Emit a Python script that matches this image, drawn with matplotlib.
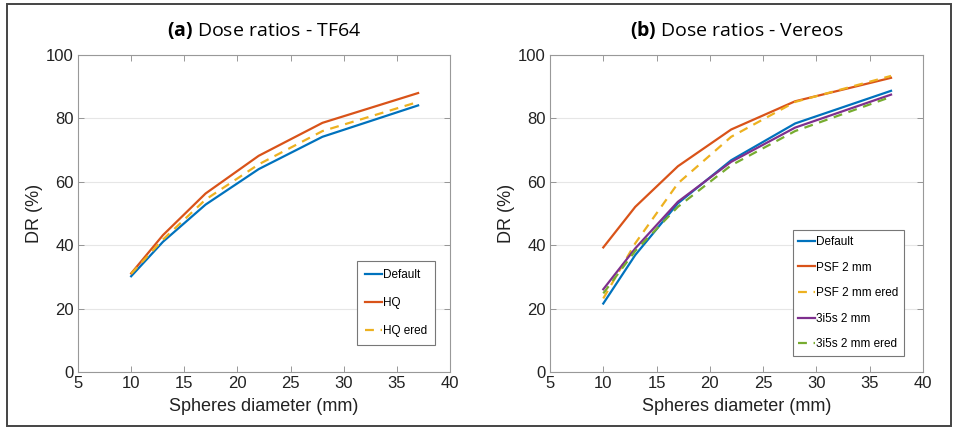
import numpy as np
import matplotlib
matplotlib.use("Agg")
import matplotlib.pyplot as plt
from matplotlib.patches import Rectangle

plt.rcParams['font.family'] = ['Liberation Sans', 'DejaVu Sans']
plt.rcParams['mathtext.fontset'] = 'custom'
plt.rcParams['mathtext.rm'] = 'Open Sans'
plt.rcParams['mathtext.bf'] = 'Open Sans:bold'

# sphere diameters (mm)
diam = [10, 13, 17, 22, 28, 37]

# (a) TF64
tf_default = [30.2, 41.1, 52.8, 64.0, 74.2, 84.1]
tf_hq = [31.1, 43.2, 56.3, 68.2, 78.6, 88.0]
tf_hq_ered = [31.0, 41.8, 54.4, 65.5, 76.0, 85.2]

# (b) Vereos
ve_default = [21.6, 36.9, 53.2, 66.8, 78.4, 88.7]
ve_psf = [39.3, 52.1, 64.9, 76.5, 85.4, 92.8]
ve_psf_ered = [23.2, 40.6, 59.5, 74.2, 85.2, 93.4]
ve_3i5s = [26.1, 39.0, 53.7, 66.3, 77.1, 87.5]
ve_3i5s_ered = [24.8, 38.2, 52.1, 65.2, 76.0, 86.8]

blue = '#0072BD'
red = '#D95319'
orange = '#EDB120'
purple = '#7E2F8E'
green = '#77AC30'

fig = plt.figure(figsize=(9.56, 4.30), dpi=100)
W, H = 956, 430
ax1 = fig.add_axes([78 / W, 1 - 372 / H, 372 / W, 317 / H])
ax2 = fig.add_axes([550 / W, 1 - 372 / H, 373 / W, 317 / H])

# border round the whole figure
fig.patches.append(Rectangle((7 / W, 4 / H), 944 / W, 422 / H, transform=fig.transFigure,
                             fill=False, edgecolor='#444444', lw=1.4))

def style(ax, title):
    ax.set_xlim(5, 40)
    ax.set_ylim(0, 100)
    ax.set_xticks(np.arange(5, 41, 5))
    ax.set_yticks(np.arange(0, 101, 20))
    ax.tick_params(direction='in', top=True, right=True, length=4, width=0.6,
                   color='#888888', labelsize=12, labelcolor='#222222', pad=3)
    for s in ax.spines.values():
        s.set_color('#999999')
        s.set_linewidth(0.8)
    ax.yaxis.grid(True, color='#e6e6e6', lw=0.8)
    ax.set_axisbelow(True)
    ax.set_xlabel('Spheres diameter (mm)', fontsize=13, color='#222222', labelpad=5)
    ax.set_ylabel('DR (%)', fontsize=13, color='#222222', labelpad=2)
    ax.set_title(title, fontsize=14, family='Open Sans', pad=14)

ax1.plot(diam, tf_default, color=blue, lw=1.6, label='Default')
ax1.plot(diam, tf_hq, color=red, lw=1.6, label='HQ')
ax1.plot(diam, tf_hq_ered, color=orange, lw=1.6, ls=(0, (4, 3)), label='HQ ered')
style(ax1, r'$\mathbf{(a)}$ Dose ratios - TF64')
leg1 = ax1.legend(loc='lower right', bbox_to_anchor=(0.96, 0.085), fontsize=8.5,
                  labelspacing=1.35, handlelength=1.4, handletextpad=0.1,
                  borderpad=0.7, borderaxespad=0, fancybox=False, framealpha=1,
                  edgecolor='#777777')
leg1.get_frame().set_linewidth(0.8)

ax2.plot(diam, ve_default, color=blue, lw=1.6, label='Default')
ax2.plot(diam, ve_psf, color=red, lw=1.6, label='PSF 2 mm')
ax2.plot(diam, ve_psf_ered, color=orange, lw=1.6, ls=(0, (4, 3)), label='PSF 2 mm ered')
ax2.plot(diam, ve_3i5s, color=purple, lw=1.6, label='3i5s 2 mm')
ax2.plot(diam, ve_3i5s_ered, color=green, lw=1.6, ls=(0, (4, 3)), label='3i5s 2 mm ered')
style(ax2, r'$\mathbf{(b)}$ Dose ratios - Vereos')
leg2 = ax2.legend(loc='lower right', bbox_to_anchor=(0.95, 0.05), fontsize=8.5,
                  labelspacing=1.15, handlelength=1.4, handletextpad=0.1,
                  borderpad=0.5, borderaxespad=0, fancybox=False, framealpha=1,
                  edgecolor='#777777')
leg2.get_frame().set_linewidth(0.8)

fig.savefig('out.png', dpi=100)
